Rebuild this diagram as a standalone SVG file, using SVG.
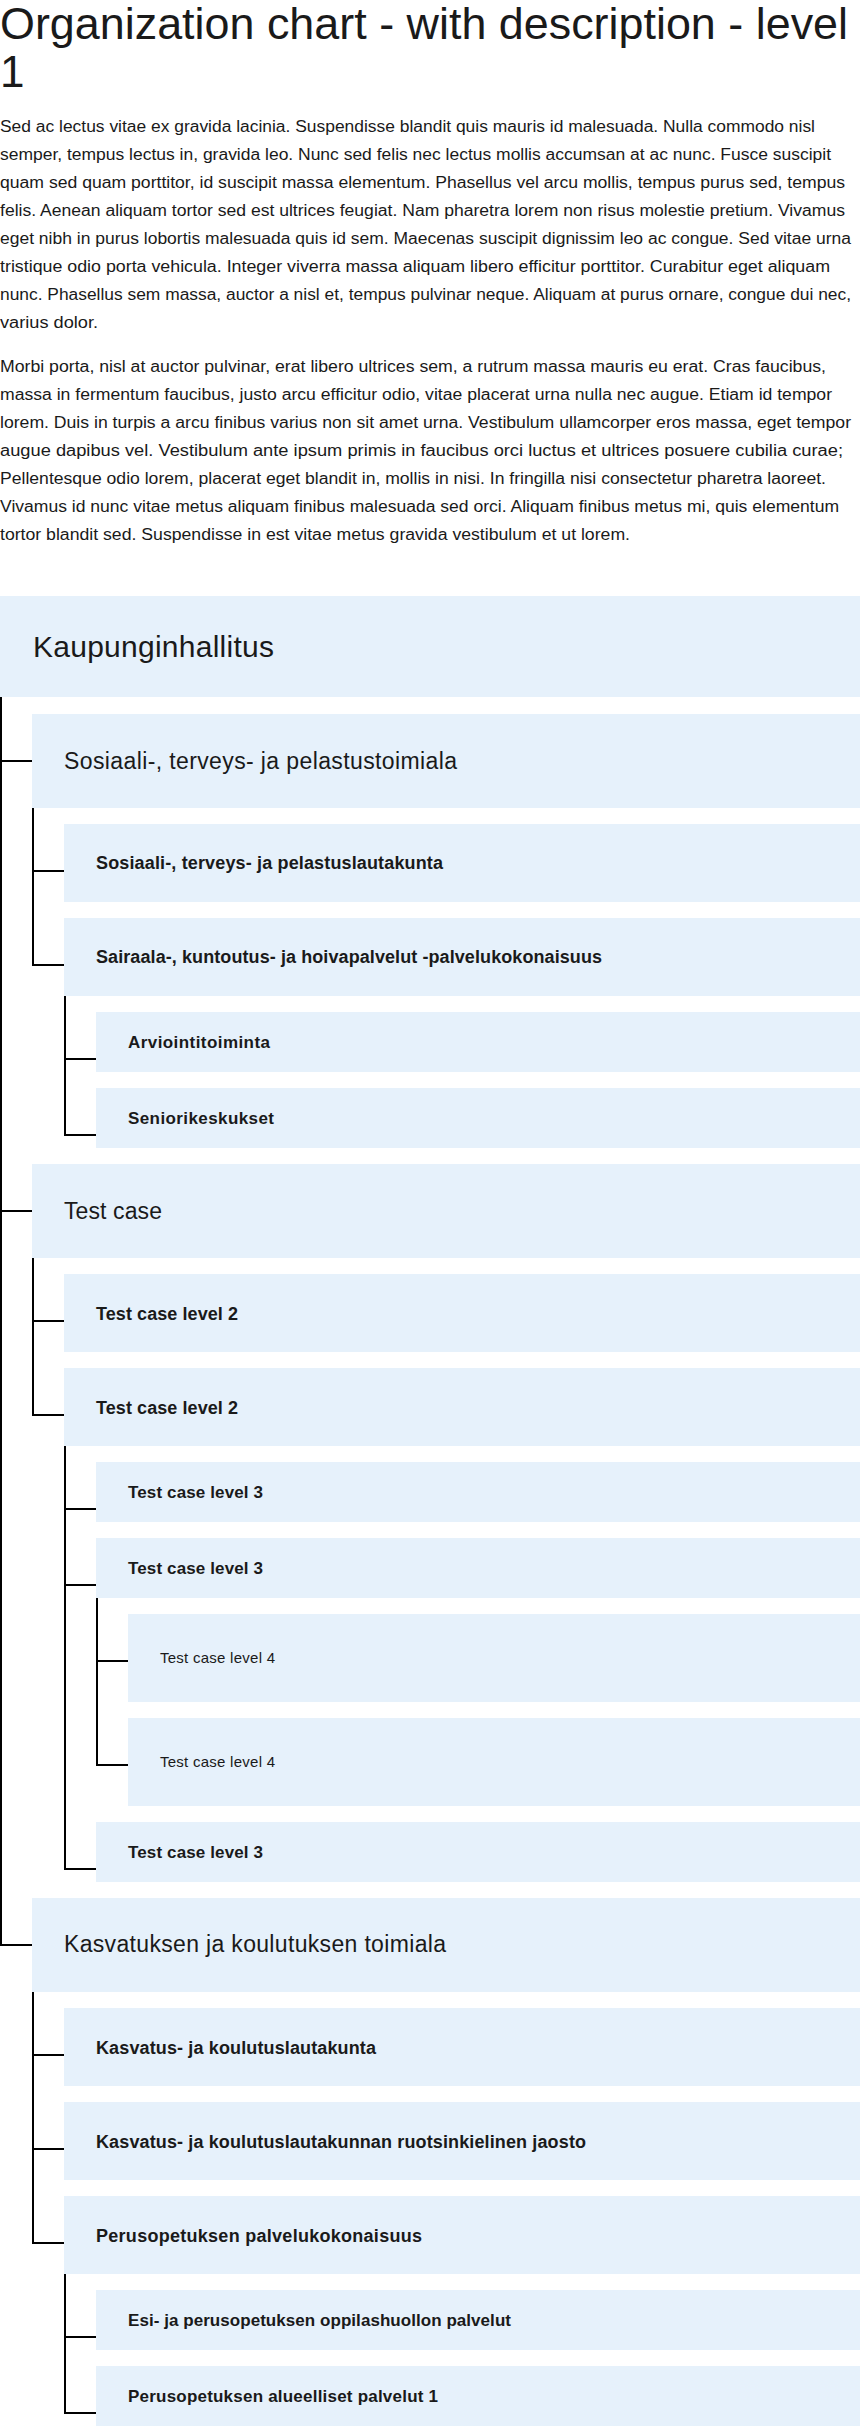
<svg xmlns="http://www.w3.org/2000/svg" width="860" height="2426" viewBox="0 0 860 2426">
<style>
text{fill:#1a1a1a;font-family:"Liberation Sans",Arial,sans-serif}
.title{font-size:44px}
.p{font-size:16px}
.box{fill:#e6f1fb}
.l0{font-size:30px}
.l1{font-size:23px}
.l2{font-size:18px;font-weight:bold}
.l3{font-size:17px;font-weight:bold}
.l4{font-size:15px}
.conn path{stroke:#000;stroke-width:2;fill:none}
</style>
<rect width="860" height="2426" fill="#fff"/>
<g id="header">
<text class="title" x="0" y="39" textLength="848" lengthAdjust="spacingAndGlyphs">Organization chart - with description - level</text>
<text class="title" x="0" y="87">1</text>
<text class="p" x="0" y="132" textLength="815" lengthAdjust="spacingAndGlyphs">Sed ac lectus vitae ex gravida lacinia. Suspendisse blandit quis mauris id malesuada. Nulla commodo nisl</text>
<text class="p" x="0" y="160" textLength="831" lengthAdjust="spacingAndGlyphs">semper, tempus lectus in, gravida leo. Nunc sed felis nec lectus mollis accumsan at ac nunc. Fusce suscipit</text>
<text class="p" x="0" y="188" textLength="845" lengthAdjust="spacingAndGlyphs">quam sed quam porttitor, id suscipit massa elementum. Phasellus vel arcu mollis, tempus purus sed, tempus</text>
<text class="p" x="0" y="216" textLength="845" lengthAdjust="spacingAndGlyphs">felis. Aenean aliquam tortor sed est ultrices feugiat. Nam pharetra lorem non risus molestie pretium. Vivamus</text>
<text class="p" x="0" y="244" textLength="851" lengthAdjust="spacingAndGlyphs">eget nibh in purus lobortis malesuada quis id sem. Maecenas suscipit dignissim leo ac congue. Sed vitae urna</text>
<text class="p" x="0" y="272" textLength="830" lengthAdjust="spacingAndGlyphs">tristique odio porta vehicula. Integer viverra massa aliquam libero efficitur porttitor. Curabitur eget aliquam</text>
<text class="p" x="0" y="300" textLength="851" lengthAdjust="spacingAndGlyphs">nunc. Phasellus sem massa, auctor a nisl et, tempus pulvinar neque. Aliquam at purus ornare, congue dui nec,</text>
<text class="p" x="0" y="328" textLength="98" lengthAdjust="spacingAndGlyphs">varius dolor.</text>
<text class="p" x="0" y="372" textLength="826" lengthAdjust="spacingAndGlyphs">Morbi porta, nisl at auctor pulvinar, erat libero ultrices sem, a rutrum massa mauris eu erat. Cras faucibus,</text>
<text class="p" x="0" y="400" textLength="832" lengthAdjust="spacingAndGlyphs">massa in fermentum faucibus, justo arcu efficitur odio, vitae placerat urna nulla nec augue. Etiam id tempor</text>
<text class="p" x="0" y="428" textLength="851" lengthAdjust="spacingAndGlyphs">lorem. Duis in turpis a arcu finibus varius non sit amet urna. Vestibulum ullamcorper eros massa, eget tempor</text>
<text class="p" x="0" y="456" textLength="843" lengthAdjust="spacingAndGlyphs">augue dapibus vel. Vestibulum ante ipsum primis in faucibus orci luctus et ultrices posuere cubilia curae;</text>
<text class="p" x="0" y="484" textLength="826" lengthAdjust="spacingAndGlyphs">Pellentesque odio lorem, placerat eget blandit in, mollis in nisi. In fringilla nisi consectetur pharetra laoreet.</text>
<text class="p" x="0" y="512" textLength="839" lengthAdjust="spacingAndGlyphs">Vivamus id nunc vitae metus aliquam finibus malesuada sed orci. Aliquam finibus metus mi, quis elementum</text>
<text class="p" x="0" y="540" textLength="630" lengthAdjust="spacingAndGlyphs">tortor blandit sed. Suspendisse in est vitae metus gravida vestibulum et ut lorem.</text>
</g>
<g class="conn" id="connectors">
<path d="M1 697V1946M0 761H32M0 1211H32M0 1945H32"/>
<path d="M33 808V966M32 871H64M32 965H64"/>
<path d="M65 996V1136M64 1059H96M64 1135H96"/>
<path d="M33 1258V1416M32 1321H64M32 1415H64"/>
<path d="M65 1446V1870M64 1509H96M64 1585H96M64 1869H96"/>
<path d="M97 1598V1766M96 1661H128M96 1765H128"/>
<path d="M33 1992V2244M32 2055H64M32 2149H64M32 2243H64"/>
<path d="M65 2274V2414M64 2337H96M64 2413H96"/>
</g>
<g id="n1"><rect class="box" x="0" y="596" width="860" height="101"/><text class="l0" x="33" y="657" textLength="241">Kaupunginhallitus</text></g>
<g id="n2"><rect class="box" x="32" y="714" width="828" height="94"/><text class="l1" x="64" y="769" textLength="393">Sosiaali-, terveys- ja pelastustoimiala</text></g>
<g id="n3"><rect class="box" x="64" y="824" width="796" height="78"/><text class="l2" x="96" y="869" textLength="347">Sosiaali-, terveys- ja pelastuslautakunta</text></g>
<g id="n4"><rect class="box" x="64" y="918" width="796" height="78"/><text class="l2" x="96" y="963" textLength="506">Sairaala-, kuntoutus- ja hoivapalvelut -palvelukokonaisuus</text></g>
<g id="n5"><rect class="box" x="96" y="1012" width="764" height="60"/><text class="l3" x="128" y="1048" textLength="142">Arviointitoiminta</text></g>
<g id="n6"><rect class="box" x="96" y="1088" width="764" height="60"/><text class="l3" x="128" y="1124" textLength="146">Seniorikeskukset</text></g>
<g id="n7"><rect class="box" x="32" y="1164" width="828" height="94"/><text class="l1" x="64" y="1219" textLength="98">Test case</text></g>
<g id="n8"><rect class="box" x="64" y="1274" width="796" height="78"/><text class="l2" x="96" y="1320" textLength="142">Test case level 2</text></g>
<g id="n9"><rect class="box" x="64" y="1368" width="796" height="78"/><text class="l2" x="96" y="1414" textLength="142">Test case level 2</text></g>
<g id="n10"><rect class="box" x="96" y="1462" width="764" height="60"/><text class="l3" x="128" y="1498" textLength="135">Test case level 3</text></g>
<g id="n11"><rect class="box" x="96" y="1538" width="764" height="60"/><text class="l3" x="128" y="1574" textLength="135">Test case level 3</text></g>
<g id="n12"><rect class="box" x="128" y="1614" width="732" height="88"/><text class="l4" x="160" y="1663" textLength="115">Test case level 4</text></g>
<g id="n13"><rect class="box" x="128" y="1718" width="732" height="88"/><text class="l4" x="160" y="1767" textLength="115">Test case level 4</text></g>
<g id="n14"><rect class="box" x="96" y="1822" width="764" height="60"/><text class="l3" x="128" y="1858" textLength="135">Test case level 3</text></g>
<g id="n15"><rect class="box" x="32" y="1898" width="828" height="94"/><text class="l1" x="64" y="1952" textLength="382">Kasvatuksen ja koulutuksen toimiala</text></g>
<g id="n16"><rect class="box" x="64" y="2008" width="796" height="78"/><text class="l2" x="96" y="2054" textLength="280">Kasvatus- ja koulutuslautakunta</text></g>
<g id="n17"><rect class="box" x="64" y="2102" width="796" height="78"/><text class="l2" x="96" y="2148" textLength="490">Kasvatus- ja koulutuslautakunnan ruotsinkielinen jaosto</text></g>
<g id="n18"><rect class="box" x="64" y="2196" width="796" height="78"/><text class="l2" x="96" y="2242" textLength="326">Perusopetuksen palvelukokonaisuus</text></g>
<g id="n19"><rect class="box" x="96" y="2290" width="764" height="60"/><text class="l3" x="128" y="2326" textLength="383">Esi- ja perusopetuksen oppilashuollon palvelut</text></g>
<g id="n20"><rect class="box" x="96" y="2366" width="764" height="60"/><text class="l3" x="128" y="2402" textLength="310">Perusopetuksen alueelliset palvelut 1</text></g>
</svg>
